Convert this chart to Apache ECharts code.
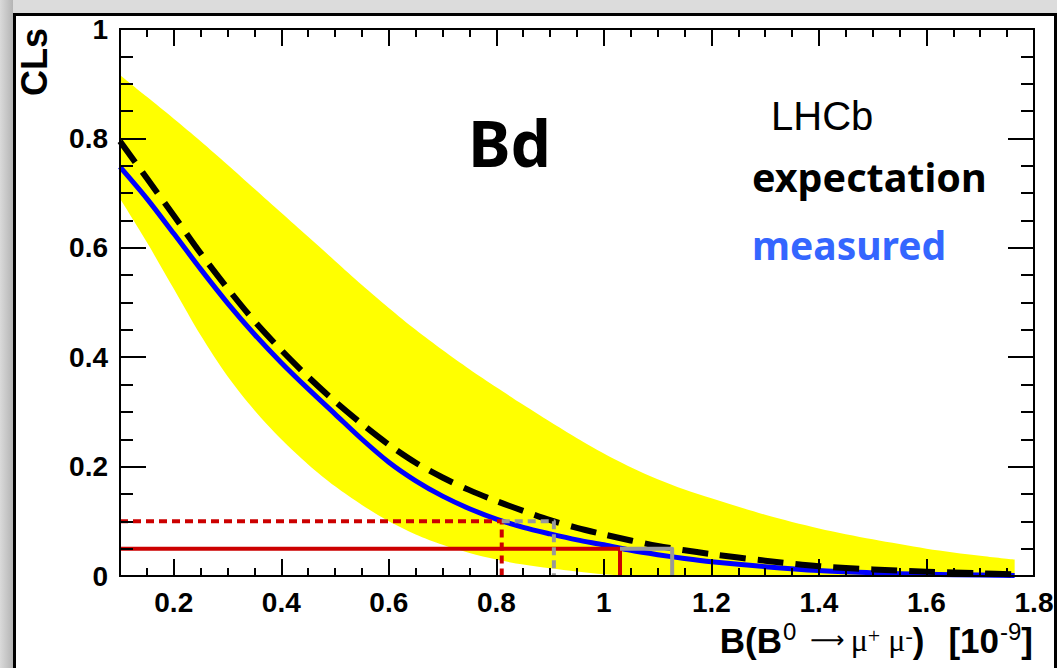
<!DOCTYPE html>
<html><head><meta charset="utf-8">
<script src="https://cdn.jsdelivr.net/npm/echarts@6/dist/echarts.min.js"></script>
<style>html,body{margin:0;padding:0;background:#dcdcdc}#c{width:1057px;height:668px}</style>
</head><body><div id="c"></div>
<script>
// ---- data ----
const xGrid      = [0.1, 0.15, 0.2, 0.25, 0.3, 0.35, 0.4, 0.45, 0.5, 0.55, 0.6, 0.65, 0.7, 0.75, 0.8, 0.85, 0.9, 0.95, 1.0, 1.05, 1.1, 1.15, 1.2, 1.3, 1.4, 1.5, 1.6, 1.7, 1.764];
const expected   = [0.795, 0.727, 0.659, 0.59, 0.526, 0.466, 0.413, 0.364, 0.319, 0.278, 0.24, 0.207, 0.18, 0.157, 0.137, 0.119, 0.102, 0.088, 0.076, 0.065, 0.055, 0.047, 0.04, 0.028, 0.018, 0.012, 0.008, 0.005, 0.003];
const measured   = [0.748, 0.69, 0.626, 0.561, 0.499, 0.442, 0.39, 0.342, 0.296, 0.25, 0.208, 0.174, 0.146, 0.123, 0.104, 0.089, 0.077, 0.066, 0.057, 0.047, 0.039, 0.032, 0.026, 0.017, 0.01, 0.006, 0.003, 0.002, 0.001];
const bandUpper  = [0.916, 0.876, 0.836, 0.795, 0.752, 0.708, 0.664, 0.62, 0.576, 0.532, 0.49, 0.45, 0.413, 0.378, 0.345, 0.313, 0.282, 0.252, 0.224, 0.199, 0.177, 0.158, 0.142, 0.112, 0.087, 0.067, 0.05, 0.037, 0.03];
const bandLower  = [0.69, 0.61, 0.525, 0.44, 0.365, 0.303, 0.25, 0.204, 0.164, 0.13, 0.1, 0.076, 0.057, 0.042, 0.03, 0.021, 0.014, 0.008, 0.003, 0, 0, 0, 0, 0, 0, 0, 0, 0, 0];
const xTickLabels = [0.2, 0.4, 0.6, 0.8, 1, 1.2, 1.4, 1.6, 1.8];
const clLevels       = [0.1, 0.05];     // 90% and 95% CL
const limitsObserved = [0.81, 1.03];
const limitsExpected = [0.907, 1.127];
const xMin = 0.1, xMax = 1.8;

// ---- chart ----
const chart = echarts.init(document.getElementById('c'), null, {renderer: 'svg'});
const tickFont = {fontFamily: 'Liberation Sans', fontWeight: 'bold', fontSize: 28, color: '#000'};
const axLine = {show: true, onZero: false, lineStyle: {color: '#000', width: 2}};

function xAxisDef(pos, major, labels) {
  const a = {
    type: 'value', position: pos, min: xMin, max: xMax, z: 10,
    axisLine: axLine, splitLine: {show: false},
    axisTick: {show: true, inside: true, length: major ? 17 : 8, lineStyle: {color: '#000', width: 2}},
    axisLabel: {show: false}
  };
  if (major) {
    a.axisTick.customValues = xTickLabels;
  } else {
    a.interval = 0.05;
  }
  if (labels) {
    a.axisLabel = Object.assign({show: true, margin: 12, customValues: xTickLabels,
      formatter: v => String(+(+v).toFixed(2))}, tickFont);
  }
  return a;
}
function yAxisDef(pos, labels) {
  return {
    type: 'value', position: pos, min: 0, max: 1, interval: 0.2, z: 10,
    axisLine: axLine, splitLine: {show: false},
    axisTick: {show: true, inside: true, length: 26, lineStyle: {color: '#000', width: 2}},
    minorTick: {show: true, splitNumber: 4, length: 13, lineStyle: {color: '#000', width: 2}},
    axisLabel: labels ? Object.assign({show: true, margin: 12, formatter: v => String(+(+v).toFixed(2))}, tickFont) : {show: false}
  };
}

function limitLine(xLeft, xRight, level) {
  return [[xLeft, level], [xRight, level], [xRight, 0]];
}
function lineSeries(name, data, color, width, type, z, smooth) {
  return {name, type: 'line', data, xAxisIndex: 0, yAxisIndex: 0, symbol: 'none', z,
    smooth: smooth || false,
    lineStyle: {color, width, type, cap: 'butt', join: 'round'}, animation: false, silent: true};
}
function bandSeries(name, values, fill) {
  return {name, type: 'line', data: xGrid.map((x, i) => [x, values[i]]), symbol: 'none', z: 1,
    smooth: 0.3, silent: true, animation: false,
    lineStyle: {width: 0, color: fill}, areaStyle: {color: fill, opacity: 1, origin: 'start'}};
}

const option = {
  backgroundColor: '#dcdcdc',
  animation: false,
  grid: {left: 120, right: 23, top: 29, bottom: 92, show: false},
  xAxis: [xAxisDef('bottom', true, true), xAxisDef('bottom', false, false), xAxisDef('top', true, false), xAxisDef('top', false, false)],
  yAxis: [yAxisDef('left', true), yAxisDef('right', false)],
  graphic: [
    {type: 'rect', z: -10, shape: {x: 0, y: 0, width: 13, height: 668},
      style: {fill: new echarts.graphic.LinearGradient(0, 0, 1, 0, [{offset: 0, color: '#dadada'}, {offset: 1, color: '#b4b4b4'}])}},
    {type: 'rect', z: -9, shape: {x: 14.5, y: 14.5, width: 1041, height: 700},
      style: {fill: '#fff', stroke: '#000', lineWidth: 3}},
    {type: 'text', z: 100, x: 34, y: 62, rotation: Math.PI / 2,
      style: {text: 'CLs', font: 'bold 36px "Liberation Sans"', fill: '#000', align: 'center', verticalAlign: 'middle'}},
    {type: 'text', z: 100, x: 468, y: 142,
      style: {text: 'Bd', font: 'bold 64px "Noto Sans"', fill: '#000', align: 'left', verticalAlign: 'middle'}},
    {type: 'text', z: 100, x: 771, y: 116,
      style: {text: 'LHCb', font: '40px "Liberation Sans"', fill: '#000', align: 'left', verticalAlign: 'middle'}},
    {type: 'text', z: 100, x: 752, y: 177,
      style: {text: 'expectation', font: 'bold 39.5px "Noto Sans"', fill: '#000', align: 'left', verticalAlign: 'middle'}},
    {type: 'text', z: 100, x: 752, y: 244,
      style: {text: 'measured', font: 'bold 39px "Noto Sans"', fill: '#3466ff', align: 'left', verticalAlign: 'middle'}},
    {type: 'text', z: 100, x: 1033, y: 640,
      style: {
        text: '{b|B(B}{sup|0}{sp1| }{arr|\u27f6}{sp2| }{sym|\u03bc}{sups|+}{sym| \u03bc}{sups|-}{b|)}{sp3| }{b|[10}{sup|-9}{b|]}',
        align: 'right', verticalAlign: 'middle',
        rich: {
          b: {font: 'bold 35px "Liberation Sans"', fill: '#000', lineHeight: 40},
          sup: {font: '24px "Liberation Sans"', fill: '#000', padding: [0, 0, 18, 1]},
          sups: {font: '22px "Liberation Serif"', fill: '#000', padding: [0, 0, 10, 0]},
          sym: {font: '32px "Liberation Serif"', fill: '#000'},
          arr: {font: '24px "DejaVu Sans"', fill: '#000'},
          sp1: {font: '30px "Liberation Sans"', width: 14},
          sp2: {font: '30px "Liberation Sans"', width: 6},
          sp3: {font: '30px "Liberation Sans"', width: 24}
        }
      }}
  ],
  series: [
    bandSeries('bandUpper', bandUpper, '#ffff00'),
    bandSeries('bandLower', bandLower, '#ffffff'),
    lineSeries('measured', xGrid.map((x, i) => [x, measured[i]]), '#0000ff', 5, 'solid', 3, 0.3),
    lineSeries('expectation', xGrid.map((x, i) => [x, expected[i]]), '#000000', 6, [26, 12], 4, 0.3),
    lineSeries('obs90', limitLine(xMin, limitsObserved[0], clLevels[0]), '#cc0000', 4, [8, 5], 5),
    lineSeries('obs95', limitLine(xMin, limitsObserved[1], clLevels[1]), '#cc0000', 4, 'solid', 5),
    lineSeries('exp90', limitLine(limitsObserved[0], limitsExpected[0], clLevels[0]), '#999999', 4, [8, 5], 5),
    lineSeries('exp95', limitLine(limitsObserved[1], limitsExpected[1], clLevels[1]), '#999999', 4, 'solid', 5)
  ]
};
chart.setOption(option);
</script></body></html>
